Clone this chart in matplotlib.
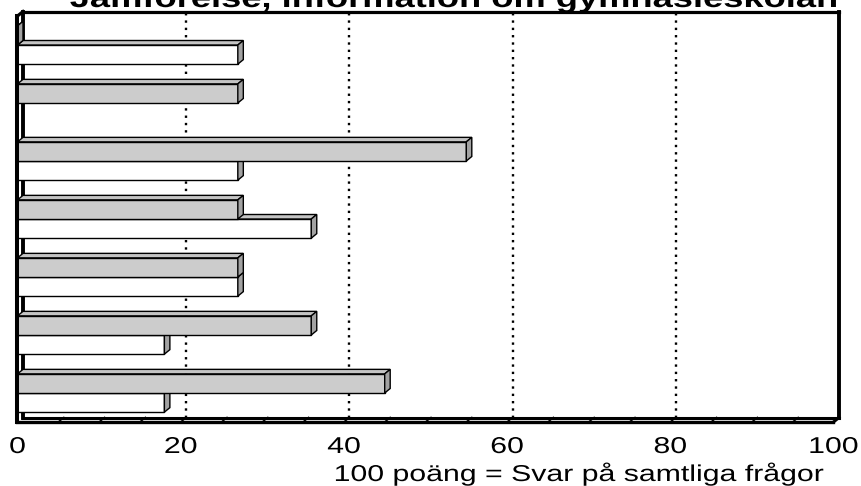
import numpy as np
import matplotlib
matplotlib.use("Agg")
import matplotlib.pyplot as plt
from matplotlib.patches import Polygon
from matplotlib.patheffects import AbstractPathEffect
from matplotlib.transforms import Affine2D, blended_transform_factory

# ---- data (categories listed bottom to top) ----
categories = ["1", "2", "3", "4", "5", "6", "7"]
grey_values = [45, 36, 27, 27, 55, 27, 0]
white_values = [18, 18, 27, 36, 27, np.nan, 27]
x_ticks = [0, 20, 40, 60, 80, 100]
x_tick_labels = ["0", "20", "40", "60", "80", "100"]
title = "Jämförelse, information om gymnasieskolan"
x_label = "100 poäng = Svar på samtliga frågor"

W_PX, H_PX = 862, 486
FONT = "Liberation Sans"


class HStretch(AbstractPathEffect):
    """Draw text glyphs widened horizontally about their own centre."""

    def __init__(self, sx):
        super().__init__()
        self.sx = sx

    def draw_path(self, renderer, gc, tpath, affine, rgbFace=None):
        ext = tpath.get_extents()
        cx = 0.5 * (ext.x0 + ext.x1)
        t = Affine2D().translate(-cx, 0).scale(self.sx, 1).translate(cx, 0) + affine
        renderer.draw_path(gc, tpath, t, rgbFace)


fig = plt.figure(figsize=(W_PX / 100, H_PX / 100), dpi=100)
fig.patch.set_facecolor("white")

# front plane of the 3-D box in pixels
x0_px, x1_px = 17.5, 833.5
ybot_px, ytop_px = 422.0, 16.0
ax = fig.add_axes([x0_px / W_PX, (H_PX - ybot_px) / H_PX,
                   (x1_px - x0_px) / W_PX, (ybot_px - ytop_px) / H_PX])
n = len(categories)
ax.set_xlim(0, 100)
ax.set_ylim(0.5, n + 0.5)
ax.axis("off")

ux = (x1_px - x0_px) / 100.0          # px per value unit
uy = (ybot_px - ytop_px) / n          # px per category
ddx = 5.5 / ux                        # depth offset in data units
ddy = 4.5 / uy

ylo, yhi = 0.5, n + 0.5


def poly(pts, fc, ec="black", lw=1.0, z=2):
    p = Polygon(pts, closed=True, facecolor=fc, edgecolor=ec, linewidth=lw,
                joinstyle="miter", clip_on=False, zorder=z)
    ax.add_patch(p)


def line(xs, ys, lw, z=3, **kw):
    ax.plot(xs, ys, color="black", lw=lw, clip_on=False, zorder=z,
            solid_capstyle="projecting", **kw)


# back wall gridlines (dotted)
for v in x_ticks[1:-1]:
    ax.plot([v + ddx, v + ddx], [ylo + ddy, yhi + ddy], color="black", lw=1.7,
            linestyle=(0, (1, 2.1)), dash_capstyle="butt", clip_on=False, zorder=1)

# floor
poly([(0, ylo), (100, ylo), (100 + ddx, ylo + ddy), (ddx, ylo + ddy)],
     "white", ec="none", z=1)
for v in range(5, 100, 5):
    line([v, v + ddx], [ylo, ylo + ddy], 1.2, z=1.5)
line([0, 100], [ylo, ylo], 2.4, z=6)
line([ddx, 100 + ddx], [ylo + ddy, ylo + ddy], 2.2, z=1.6)
line([100, 100 + ddx], [ylo, ylo + ddy], 2.2, z=6)

# back wall frame
line([ddx, 100 + ddx], [yhi + ddy, yhi + ddy], 2.3, z=1.6)
line([100 + ddx, 100 + ddx], [ylo + ddy, yhi + ddy], 2.8, z=1.6)
line([ddx, ddx], [ylo + ddy, yhi + ddy], 2.8, z=1.6)
# left wall front edge and top
line([0, 0], [ylo, yhi], 2.9, z=7)
line([0, ddx], [yhi, yhi + ddy], 2.3, z=7)

# bars
h = 0.33
GREY = ("#cccccc", "#c4c4c4", "#a2a2a2")
WHITE = ("#ffffff", "#c4c4c4", "#a2a2a2")


def bar3d(v, y0, colors, z):
    if np.isnan(v):
        return
    front, top, side = colors
    poly([(0, y0), (v, y0), (v, y0 + h), (0, y0 + h)], front, z=z)
    poly([(0, y0 + h), (v, y0 + h), (v + ddx, y0 + h + ddy), (ddx, y0 + h + ddy)],
         top, z=z)
    poly([(v, y0), (v + ddx, y0 + ddy), (v + ddx, y0 + h + ddy), (v, y0 + h)],
         side, z=z)


z = 2.0
for i in range(n):
    c = i + 1
    bar3d(white_values[i], c - h, WHITE, z)
    z += 0.1
    bar3d(grey_values[i], c, GREY, z)
    z += 0.1

# tick labels
stretch = [HStretch(1.32)]
tr = blended_transform_factory(ax.transData, fig.transFigure)
for v, lab in zip(x_ticks, x_tick_labels):
    ax.text(v, 33 / H_PX, lab, transform=tr, ha="center", va="baseline",
            fontsize=16.5, family=FONT, path_effects=stretch, clip_on=False)

fig.text(579 / W_PX, 5 / H_PX, x_label, ha="center", va="baseline",
         fontsize=16.5, family=FONT, path_effects=stretch)

fig.text(454 / W_PX, 1 - 7 / H_PX, title, ha="center", va="baseline",
         fontsize=19.5, fontweight="bold", family=FONT,
         path_effects=[HStretch(1.34)])

fig.savefig("out.png", dpi=100, facecolor="white")
